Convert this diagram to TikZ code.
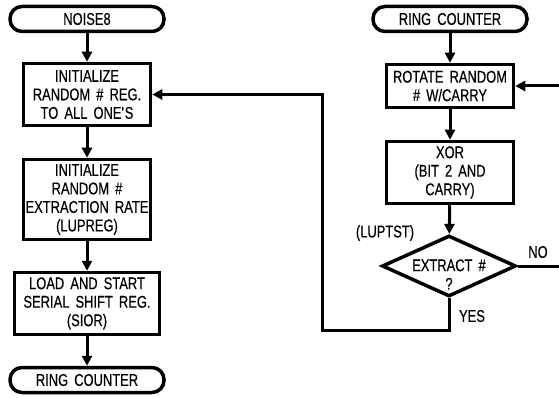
\documentclass[tikz,border=0pt]{standalone}
\usepackage{fontspec}
\setmainfont{Liberation Sans}[FakeStretch=0.76, WordSpace=1.7, FakeBold=0.4]
\usetikzlibrary{shapes.geometric,arrows.meta}
\tikzset{
  box/.style={draw, line width=3.5pt, align=center, inner sep=0pt},
  term/.style={draw, line width=3.5pt, rounded corners=12pt, inner sep=0pt,
    minimum width=154pt, minimum height=25pt},
  test/.style={draw, diamond, line width=3.5pt, inner sep=0pt,
    minimum width=134pt, minimum height=61pt},
  flow/.style={line width=3pt, -{Triangle[width=10pt,length=10pt]}},
  wire/.style={line width=3pt}
}
\begin{document}
\begin{tikzpicture}[x=1pt, y=-1pt, font=\fontsize{17}{18.5}\selectfont]
  \useasboundingbox (0,0) rectangle (559,398);
  % left column
  \node[term] (noise) at (87,19) {NOISE8};
  \node[box, minimum width=127pt, minimum height=62pt] (initreg) at (87,94.5)
    {INITIALIZE\\RANDOM \# REG.\\TO ALL ONE\textquotesingle S};
  \node[box, minimum width=127pt, minimum height=80pt] (extrate) at (87,199.5)
    {INITIALIZE\\RANDOM \#\\EXTRACTION RATE\\(LUPREG)};
  \node[box, minimum width=145pt, minimum height=62pt] (sior) at (87,303.5)
    {LOAD AND START\\SERIAL SHIFT REG.\\(SIOR)};
  \node[term] (ringl) at (87,380) {RING COUNTER};
  \draw[flow] (noise) -- (initreg);
  \draw[flow] (initreg) -- (extrate);
  \draw[flow] (extrate) -- (sior);
  \draw[flow] (sior) -- (ringl);
  % right column
  \node[term] (ringr) at (450,19) {RING COUNTER};
  \node[box, minimum width=127pt, minimum height=43pt] (rotate) at (450,86)
    {ROTATE RANDOM\\\# W/CARRY};
  \node[box, minimum width=127pt, minimum height=62pt] (xorbit) at (450,172.5)
    {XOR\\(BIT 2 AND\\CARRY)};
  \node[test, label={[name=luptq, align=center, yshift=-8.5pt]center:{EXTRACT \#\\?}}]
    (lupt) at (449,266) {};
  \node (luptlbl) at (385,233) {(LUPTST)};
  \node (nolbl) at (538,252) {NO};
  \node (yeslbl) at (472,316) {YES};
  \draw[flow] (ringr) -- (rotate);
  \draw[flow] (rotate) -- (xorbit);
  \draw[flow] (xorbit) -- (lupt);
  % loops
  \coordinate (yesturn) at (322,330);
  \coordinate (noend) at (559,266);
  \coordinate (loopin) at (559,86);
  \draw[flow] (lupt.south) |- (yesturn) |- (initreg.east);
  \draw[wire] (lupt.east) -- (noend);
  \draw[flow] (loopin) -- (rotate.east);
\end{tikzpicture}
\end{document}
